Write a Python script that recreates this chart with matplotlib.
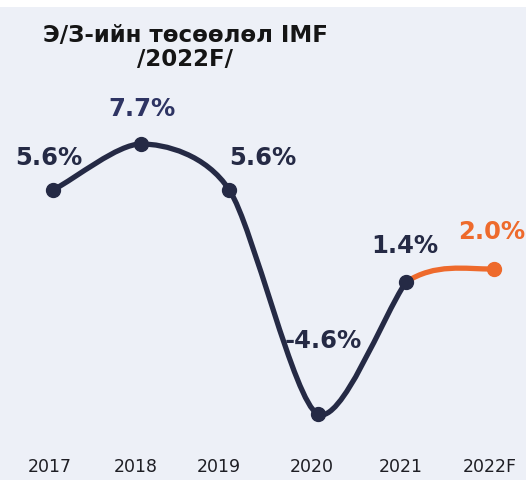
import numpy as np
import matplotlib.pyplot as plt
from matplotlib.path import Path
from matplotlib.patches import PathPatch
import matplotlib.transforms as mtransforms

# Data
years = ["2017", "2018", "2019", "2020", "2021", "2022F"]
growth = [5.6, 7.7, 5.6, -4.6, 1.4, 2.0]
labels = ["5.6%", "7.7%", "5.6%", "-4.6%", "1.4%", "2.0%"]

navy = "#252a45"
orange = "#ee6a2c"
bg = "#edf0f7"

fig = plt.figure(figsize=(5.26, 4.81), dpi=100)
fig.patch.set_facecolor("white")
ax = fig.add_axes([0, 0, 1, 1 - 8 / 481])
ax.set_facecolor(bg)
for s in ax.spines.values():
    s.set_visible(False)
ax.set_xticks([])
ax.set_yticks([])

x = np.arange(len(years), dtype=float)
y = np.array(growth)
ax.set_xlim(-0.601, 5.363)
ax.set_ylim(-7.61, 13.94)


# Catmull-Rom style smooth curve built from bezier segments
def smooth_path(xs, ys, tension=0.8):
    n = len(xs)
    tx = np.zeros(n)
    ty = np.zeros(n)
    for i in range(n):
        if i == 0:
            tx[i], ty[i] = xs[1] - xs[0], ys[1] - ys[0]
        elif i == n - 1:
            tx[i], ty[i] = xs[-1] - xs[-2], ys[-1] - ys[-2]
        else:
            tx[i] = (xs[i + 1] - xs[i - 1]) / 2
            ty[i] = (ys[i + 1] - ys[i - 1]) / 2
    tx *= tension
    ty *= tension
    verts = [(xs[0], ys[0])]
    codes = [Path.MOVETO]
    for i in range(n - 1):
        verts += [(xs[i] + tx[i] / 3, ys[i] + ty[i] / 3),
                  (xs[i + 1] - tx[i + 1] / 3, ys[i + 1] - ty[i + 1] / 3),
                  (xs[i + 1], ys[i + 1])]
        codes += [Path.CURVE4] * 3
    return Path(verts, codes)


main = smooth_path(x[:5], y[:5])
ax.add_patch(PathPatch(main, fill=False, edgecolor=navy, lw=3.8,
                       capstyle="round", joinstyle="round", zorder=2))

# forecast segment
t21 = (y[5] - y[3]) / 2
fc = Path([(x[4], y[4]), (x[4] + 1 / 3, y[4] + t21 / 3 * 0.8),
           (x[5] - 1 / 3, y[5]), (x[5], y[5])],
          [Path.MOVETO, Path.CURVE4, Path.CURVE4, Path.CURVE4])
ax.add_patch(PathPatch(fc, fill=False, edgecolor=orange, lw=3.8,
                       capstyle="round", zorder=2))

ax.plot(x[:5], y[:5], "o", color=navy, ms=10, zorder=3)
ax.plot(x[5], y[5], "o", color=orange, ms=10, zorder=3)

# value labels (offset in pixels)
offsets = [(-4, 33), (1, 36), (33, 33), (6, 74), (-1, 37), (-2, 38)]
for i, lab in enumerate(labels):
    c = orange if i == 5 else ("#2e3463" if i == 1 else navy)
    ax.annotate(lab, (x[i], y[i]), xytext=offsets[i], textcoords="offset pixels",
                ha="center", va="center", fontsize=17.5, fontweight="bold",
                color=c, zorder=4)

# x labels
trans = mtransforms.blended_transform_factory(ax.transData, fig.transFigure)
xoffs = [-3, -5, -11, -6, -5, -4]
for i, yr in enumerate(years):
    ax.annotate(yr, (x[i], 1 - 467 / 481), xycoords=trans, xytext=(xoffs[i], 0),
                textcoords="offset pixels", ha="center", va="center",
                fontsize=12.5, color="#1e1e24")

# title
fig.text(185 / 526, 1 - 35 / 481, "Э/З-ийн төсөөлөл IMF", ha="center", va="center",
         fontsize=16.5, fontweight="bold", color="#151515")
fig.text(185 / 526, 1 - 59 / 481, "/2022F/", ha="center", va="center",
         fontsize=16.5, fontweight="bold", color="#151515")

fig.savefig("out.png", dpi=100, facecolor=fig.get_facecolor())
plt.close(fig)
